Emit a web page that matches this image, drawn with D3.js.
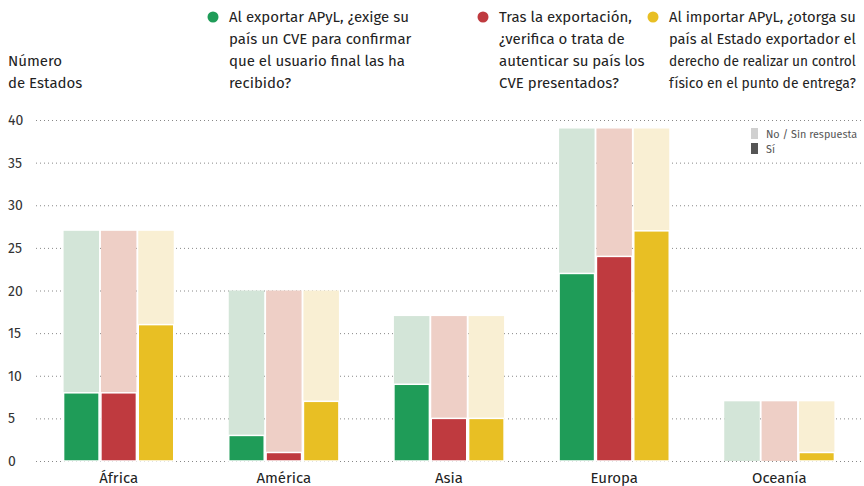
<!DOCTYPE html>
<html>
<head>
<meta charset="utf-8">
<script src="https://cdn.jsdelivr.net/npm/d3@7"></script>
<style>
  body { margin: 0; background: #fff; }
  text { font-family: "Fira Sans", "Noto Sans", sans-serif; }
</style>
</head>
<body>
<div id="chart"></div>
<script>
// regions and answers
var regions = ["África", "América", "Asia", "Europa", "Oceanía"];
var totals = [27, 20, 17, 39, 7];
var exigeSi = [8, 3, 9, 22, 0];
var verificaSi = [8, 1, 5, 24, 0];
var otorgaSi = [16, 7, 5, 27, 1];
var yTicks = [0, 5, 10, 15, 20, 25, 30, 35, 40];

var questions = [
  ["Al exportar APyL, ¿exige su", "país un CVE para confirmar", "que el usuario final las ha", "recibido?"],
  ["Tras la exportación,", "¿verifica o trata de", "autenticar su país los", "CVE presentados?"],
  ["Al importar APyL, ¿otorga su", "país al Estado exportador el", "derecho de realizar un control", "físico en el punto de entrega?"]
];
var darkColors = ["#1f9c58", "#bf3a3f", "#e8bf24"];
var lightColors = ["#d3e5d8", "#eecfc6", "#f9efd3"];

var width = 864, height = 486;
var svg = d3.select("#chart").append("svg")
    .attr("width", width)
    .attr("height", height);

var y = d3.scaleLinear().domain([0, 40]).range([461, 120]);
var x0 = d3.scaleBand().domain(regions).range([36, 862]).paddingInner(0.333).paddingOuter(0.167);
var x1 = d3.scaleBand().domain([0, 1, 2]).range([0, x0.bandwidth()]).paddingInner(0.05);

// grid
svg.append("g").selectAll("line")
  .data(yTicks)
  .enter().append("line")
    .attr("x1", 36)
    .attr("x2", width)
    .attr("y1", function(d) { return y(d) + 0.5; })
    .attr("y2", function(d) { return y(d) + 0.5; })
    .attr("stroke", "#888")
    .attr("stroke-width", 1)
    .attr("stroke-dasharray", "1,3");

svg.append("g").selectAll("text")
  .data(yTicks)
  .enter().append("text")
    .attr("x", 8)
    .attr("y", function(d) { return y(d) + 5; })
    .attr("fill", "#333")
    .style("font-size", "14px")
    .text(function(d) { return d; });

svg.append("text").attr("x", 8).attr("y", 66).attr("fill", "#222").style("font-size", "15px").text("Número");
svg.append("text").attr("x", 8).attr("y", 88).attr("fill", "#222").style("font-size", "15px").text("de Estados");

// bars
var series = [exigeSi, verificaSi, otorgaSi];
regions.forEach(function(r, i) {
  var g = svg.append("g").attr("transform", "translate(" + x0(r) + ",0)");
  series.forEach(function(s, k) {
    g.append("rect")
      .attr("x", x1(k))
      .attr("y", y(totals[i]))
      .attr("width", x1.bandwidth())
      .attr("height", y(0) - y(totals[i]))
      .attr("fill", lightColors[k]);
    if (s[i] > 0) {
      g.append("rect")
        .attr("x", x1(k))
        .attr("y", y(s[i]))
        .attr("width", x1.bandwidth())
        .attr("height", y(0) - y(s[i]))
        .attr("fill", darkColors[k])
        .attr("stroke", "#fff")
        .attr("stroke-width", 1.5);
    }
  });
  svg.append("text")
    .attr("x", x0(r) + x0.bandwidth() / 2)
    .attr("y", 483)
    .attr("text-anchor", "middle")
    .attr("fill", "#222")
    .style("font-size", "15px")
    .text(r);
});

// question legend
var legX = [213, 483, 653];
var maxW = 187;
questions.forEach(function(lines, k) {
  svg.append("circle")
    .attr("cx", legX[k])
    .attr("cy", 17)
    .attr("r", 5.5)
    .attr("fill", darkColors[k]);
  lines.forEach(function(t, j) {
    var txt = svg.append("text")
      .attr("x", legX[k] + 16)
      .attr("y", 22 + j * 22)
      .attr("fill", "#222")
      .style("font-size", "15px")
      .text(t);
    var w = txt.node().getComputedTextLength();
    if (w > maxW) {
      // shrink a too-long line so it stays inside the page
      txt.style("font-size", (15 * maxW / w) + "px");
    }
  });
});

// small key
svg.append("rect").attr("x", 751).attr("y", 128).attr("width", 7).attr("height", 11).attr("fill", "#d0d0d0");
svg.append("rect").attr("x", 751).attr("y", 143).attr("width", 7).attr("height", 11).attr("fill", "#555");
svg.append("text").attr("x", 766).attr("y", 138).attr("fill", "#555").style("font-size", "10.8px").text("No / Sin respuesta");
svg.append("text").attr("x", 766).attr("y", 153).attr("fill", "#555").style("font-size", "10.8px").text("Sí");
</script>
</body>
</html>
